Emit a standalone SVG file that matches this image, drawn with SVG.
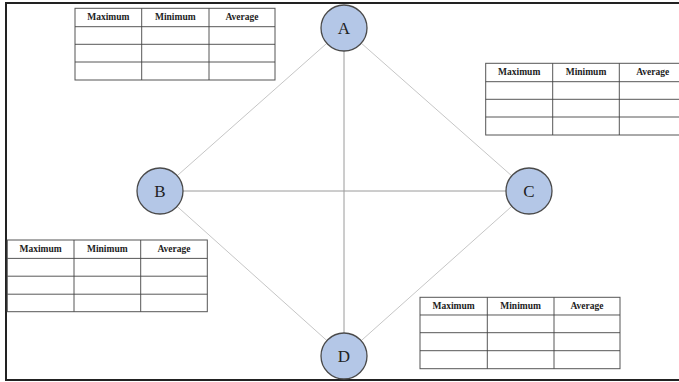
<svg xmlns="http://www.w3.org/2000/svg" width="679" height="382" viewBox="0 0 679 382">
<style>
.frame{stroke:#222;stroke-width:2;fill:none}
.edge{stroke:#c6c6c6;stroke-width:1;fill:none}
.edge2{stroke:#9a9a9a;stroke-width:1;fill:none}
.node{fill:#b4c7e7;stroke:#4a4a4a;stroke-width:1.3}
.nl{font-family:"Liberation Serif","Times New Roman",serif;font-size:17px;fill:#222;text-anchor:middle}
.tb{fill:#fff;stroke:#555;stroke-width:1}
.gl{stroke:#444;stroke-width:0.9;fill:none}
.th{font-family:"Liberation Serif","Times New Roman",serif;font-size:9.5px;font-weight:bold;fill:#222;text-anchor:middle}
</style>
<rect width="679" height="382" fill="#fff"/>
<path class="frame" d="M679 3 H6 V380 H679"/>
<g id="connectors">
<line class="edge" x1="326.8" y1="43.3" x2="177.2" y2="175.7"/>
<line class="edge" x1="361.3" y1="43.2" x2="511.7" y2="175.8"/>
<line class="edge2" x1="344" y1="51" x2="344" y2="333"/>
<line class="edge2" x1="183" y1="191" x2="506" y2="191"/>
<line class="edge" x1="177.1" y1="206.4" x2="326.9" y2="340.6"/>
<line class="edge" x1="511.8" y1="206.3" x2="361.2" y2="340.7"/>
</g>
<g id="table-top-left" transform="translate(75,8.3)">
<rect class="tb" x="0" y="0" width="200" height="71.7"/>
<path class="gl" d="M0 18.4H200M0 36H200M0 53.7H200M66.7 0V71.7M134 0V71.7"/>
<text class="th" x="33.3" y="11.8">Maximum</text>
<text class="th" x="100.3" y="11.8">Minimum</text>
<text class="th" x="167" y="11.8">Average</text>
</g>
<g id="table-top-right" transform="translate(485.7,63.3)">
<rect class="tb" x="0" y="0" width="200" height="71.7"/>
<path class="gl" d="M0 18.4H200M0 36H200M0 53.7H200M67 0V71.7M133.6 0V71.7"/>
<text class="th" x="33.5" y="11.8">Maximum</text>
<text class="th" x="100.3" y="11.8">Minimum</text>
<text class="th" x="167" y="11.8">Average</text>
</g>
<g id="table-bottom-left" transform="translate(7.3,240)">
<rect class="tb" x="0" y="0" width="200" height="71.7"/>
<path class="gl" d="M0 18.4H200M0 36.2H200M0 54.2H200M66.7 0V71.7M133.4 0V71.7"/>
<text class="th" x="33.3" y="11.8">Maximum</text>
<text class="th" x="100" y="11.8">Minimum</text>
<text class="th" x="166.7" y="11.8">Average</text>
</g>
<g id="table-bottom-right" transform="translate(420,297.3)">
<rect class="tb" x="0" y="0" width="200" height="71.4"/>
<path class="gl" d="M0 17.7H200M0 35.4H200M0 53.4H200M67.3 0V71.4M134 0V71.4"/>
<text class="th" x="33.6" y="11.5">Maximum</text>
<text class="th" x="100.6" y="11.5">Minimum</text>
<text class="th" x="167" y="11.5">Average</text>
</g>
<g id="node-A"><circle class="node" cx="344" cy="28" r="23"/><text class="nl" x="344" y="34">A</text></g>
<g id="node-B"><circle class="node" cx="160" cy="191" r="23"/><text class="nl" x="160" y="197">B</text></g>
<g id="node-C"><circle class="node" cx="529" cy="191" r="23"/><text class="nl" x="529" y="197">C</text></g>
<g id="node-D"><circle class="node" cx="344" cy="356" r="23"/><text class="nl" x="344" y="362">D</text></g>
</svg>
